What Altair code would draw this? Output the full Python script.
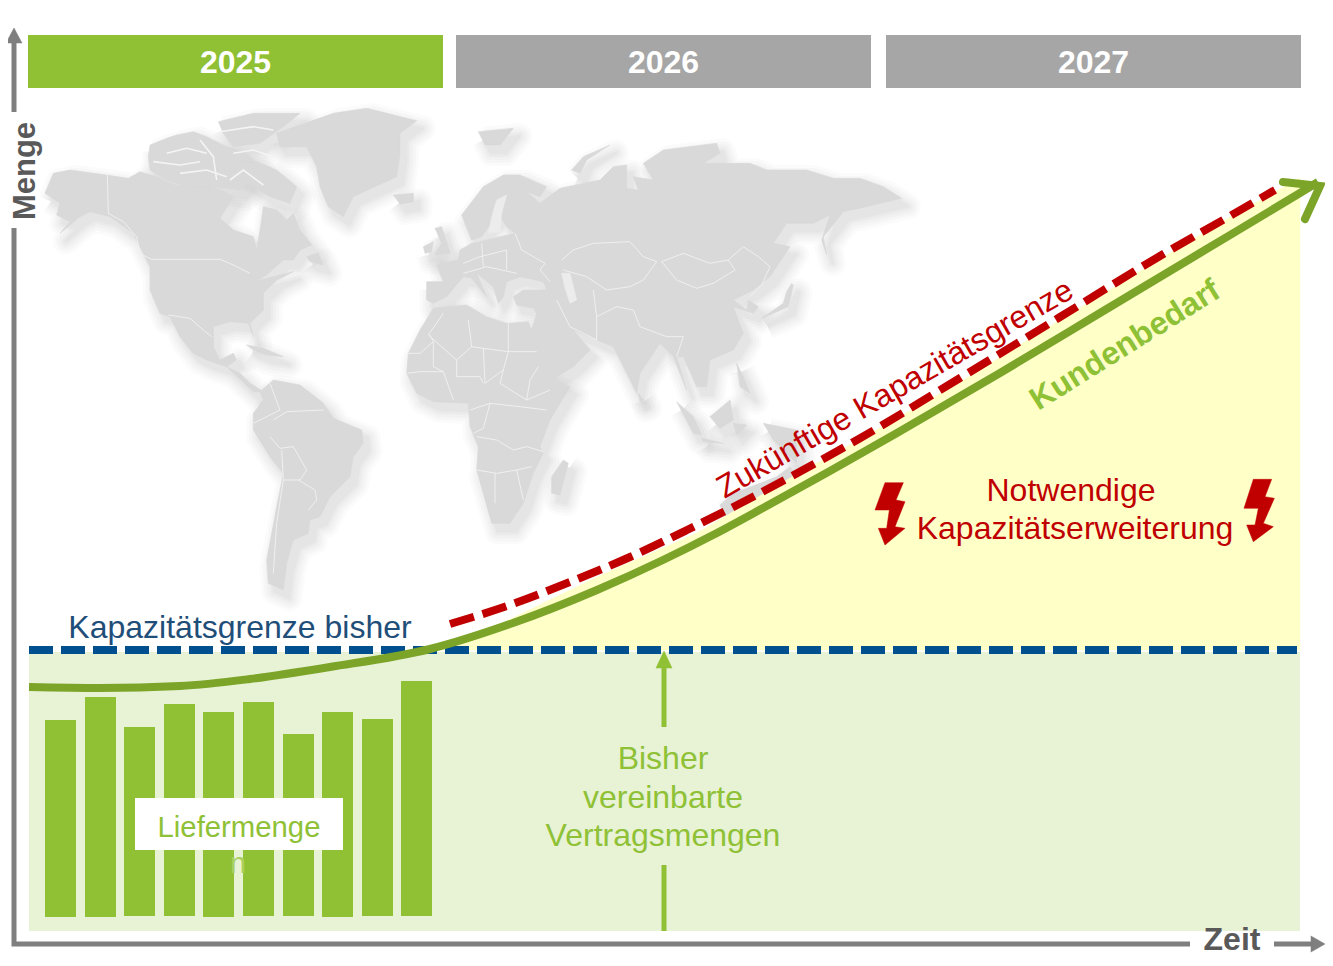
import altair as alt
import pandas as pd

FONT = "Liberation Sans"
GREEN = "#90c034"
TEXT_GREEN = "#8fc136"
DARK_GREEN = "#7ba428"
RED = "#c00000"
BLUE = "#00508f"
AXIS = "#7f7f7f"

ORIGIN_W = (0, 90)
ORIGIN_E = (400, 100)
LANDS_W = {
    "namerica": [(135,310),(160,250),(210,240),(320,255),(385,265),(420,245),(480,265),(520,285),(600,290),(640,290),(700,320),(660,385),(700,420),(760,440),(770,480),(780,420),(790,350),(830,360),(860,390),(880,370),(900,420),(935,465),(900,480),(880,510),(850,510),(800,555),(750,585),(715,580),(720,550),(760,560),(740,580),(880,545),(830,570),(790,610),(790,660),(750,700),(760,740),(745,700),(690,695),(640,710),(640,770),(660,810),(700,790),(710,810),(680,830),(720,850),(750,880),(790,905),(760,905),(680,830),(620,810),(580,790),(540,740),(510,680),(480,670),(450,600),(450,530),(420,470),(400,430),(330,380),(270,365),(240,380),(180,430),(210,395),(170,375),(180,340)],
    "arctic1": [(450,165),(500,145),(530,135),(580,125),(620,140),(680,170),(740,190),(770,220),(760,260),(720,300),(640,290),(560,290),(500,270),(450,240),(445,200)],
    "arctic2": [(655,95),(760,70),(900,70),(850,110),(780,160),(700,170),(670,130)],
    "baffin": [(700,215),(770,215),(830,240),(890,290),(870,340),(810,320),(760,290),(710,260)],
    "greenland": [(830,130),(1000,70),(1100,55),(1250,92),(1200,130),(1200,190),(1190,260),(1060,320),(1030,380),(985,350),(960,290),(950,230),(920,170),(840,170)],
    "iceland": [(1180,315),(1240,310),(1240,335),(1200,342)],
    "newfoundland": [(920,500),(955,490),(970,525),(930,515)],
    "cuba": [(740,765),(790,775),(850,800),(800,795),(760,780)],
    "samerica": [(780,905),(820,870),(900,885),(970,940),(1000,985),(1085,1020),(1090,1060),(1060,1100),(1050,1160),(990,1220),(960,1280),(930,1290),(925,1330),(880,1350),(860,1420),(850,1500),(805,1480),(800,1410),(830,1250),(850,1150),(810,1100),(760,1020),(760,970),(790,930)],
}
LANDS_E = {
    "eurasia": [(80,545),(130,545),(110,495),(175,480),(180,450),(215,430),(240,425),(300,410),(345,400),(320,380),(300,350),(270,375),(245,410),(215,420),(185,345),(250,260),(310,225),(360,225),(440,260),(420,290),(380,275),(420,310),(480,265),(600,240),(640,200),(680,195),(680,265),(715,270),(700,230),(760,240),(730,190),(790,150),(950,130),(960,160),(910,190),(1050,190),(1100,210),(1220,210),(1300,235),(1380,235),(1450,260),(1505,295),(1440,310),(1400,320),(1330,335),(1270,410),(1280,465),(1265,420),(1290,345),(1240,370),(1160,370),(1120,430),(1170,440),(1110,530),(1060,570),(1000,600),(1040,630),(1045,600),(1075,620),(1060,640),(1000,620),(1030,700),(1000,750),(930,780),(920,860),(890,860),(850,770),(830,770),(860,870),(820,770),(780,730),(720,820),(710,880),(680,820),(640,740),(590,720),(520,690),(570,750),(520,800),(455,840),(420,770),(395,690),(410,640),(400,625),(350,615),(340,590),(370,570),(440,570),(430,545),(360,530),(320,545),(310,590),(295,610),(280,560),(230,520),(260,590),(215,535),(190,530),(140,590),(100,610),(80,600)],
    "africa": [(100,625),(200,615),(260,650),(320,670),(385,665),(430,790),(450,830),(510,860),(450,960),(420,1040),(430,1060),(400,1120),(370,1210),(330,1270),(275,1270),(250,1180),(230,1110),(235,1040),(210,980),(205,910),(100,905),(50,880),(20,820),(25,760),(60,690)],
    "madagascar": [(490,1080),(505,1090),(480,1185),(455,1180),(455,1130)],
    "uk": [(105,385),(125,380),(150,460),(105,465),(125,430)],
    "ireland": [(70,440),(100,425),(95,455),(75,460)],
    "japan": [(1085,655),(1150,610),(1160,575),(1175,550),(1180,555),(1165,620),(1120,640)],
    "svalbard": [(235,95),(340,85),(300,135),(255,135)],
    "novaya": [(515,210),(550,170),(630,135),(560,180),(540,220)],
    "srilanka": [(715,880),(730,900),(720,905)],
    "sumatra": [(830,905),(880,950),(905,1005),(880,1000)],
    "borneo": [(930,950),(990,900),(1000,960),(960,985)],
    "java": [(905,1015),(970,1030),(910,1025)],
    "celebes": [(1000,970),(1040,975),(1010,1005)],
    "guinea": [(1090,970),(1190,990),(1190,1090),(1120,1020)],
    "philippines": [(1010,790),(1030,830),(1050,880),(1020,860)],
    "australia": [(960,1215),(1000,1180),(1080,1150),(1130,1130),(1170,1100),(1200,1140),(1300,1200),(1000,1300)],
}
CASPIAN_E = [(485,520),(510,520),(530,600),(510,610),(495,565)]
BALTIC_E = [(290,300),(320,285),(305,340),(300,395),(265,400),(275,350)]
CHANNELS_W = [
    [(500,190),(560,175),(620,190)],
    [(460,215),(540,225),(600,215)],
    [(540,250),(620,240),(680,260)],
    [(600,150),(640,200),(650,270)],
    [(700,190),(760,180),(820,200)],
    [(690,270),(730,240),(790,285)],
    [(660,125),(760,110),(820,120)],
]
BORDERS_W = [
    [(322,255),(325,370),(370,395),(410,440),(420,490),(455,508)],
    [(455,508),(660,508),(700,525),(750,550)],
    [(505,675),(570,685),(610,720),(635,740)],
    [(810,880),(840,960),(760,1000)],
    [(820,990),(860,965),(970,960)],
    [(810,1040),(840,1075),(880,1070),(920,1140),(900,1170),(850,1170),(845,1080)],
    [(895,1170),(945,1200),(950,1230),(925,1260)],
    [(850,1170),(830,1300),(820,1450)],
]
BORDERS_E = [
    [(485,480),(520,450),(580,430),(690,425),(730,470),(770,485),(730,540),(690,560),(620,570),(560,530),(490,510)],
    [(785,485),(850,460),(930,490),(985,480),(1005,510),(940,550),(890,565),(830,540),(785,485)],
    [(985,480),(1030,440),(1075,470),(1110,500),(1085,555),(1050,590)],
    [(345,400),(365,450),(435,490),(420,510),(450,545)],
    [(190,490),(240,470),(320,450),(320,510)],
    [(245,430),(250,500)],
    [(190,520),(260,500),(350,520)],
    [(470,600),(510,680),(590,720),(590,650),(650,620),(700,630),(720,680),(800,710),(850,710),(830,770)],
    [(580,570),(590,650)],
    [(130,640),(85,705),(170,780),(215,740),(205,660)],
    [(215,740),(250,745),(325,755),(325,670)],
    [(325,755),(410,755)],
    [(250,745),(255,850),(310,810),(325,755)],
    [(170,780),(170,830),(240,830),(250,850)],
    [(25,760),(60,760),(100,725),(90,705)],
    [(100,725),(100,800),(130,815)],
    [(20,820),(60,815),(130,815),(160,900)],
    [(310,810),(300,850),(380,900),(450,870)],
    [(380,900),(390,840),(415,800)],
    [(210,930),(270,910),(360,920),(440,930)],
    [(270,910),(250,985),(220,1000)],
    [(230,1010),(290,1020),(340,1050),(380,1040),(430,1055)],
    [(230,1110),(290,1120),(350,1110),(395,1100)],
    [(285,1120),(285,1210)],
    [(350,1110),(370,1200)],
]

# --- chart values
BAR_LEFT = [45, 85, 124, 164, 203, 243, 283, 322, 362, 401]
BAR_RIGHT = [76, 116, 155, 195, 234, 274, 314, 353, 393, 432]
BAR_TOP = [720, 697, 727, 704, 712, 702, 734, 712, 719, 681]
BAR_BOTTOM = [917, 917, 916, 916, 917, 916, 916, 917, 916, 916]
DEMAND_X = [29, 100, 180, 250, 330, 430, 513, 597, 663, 713, 763, 830, 897, 1000, 1100, 1200, 1300, 1318]
DEMAND_Y = [687, 688, 686, 679, 667, 649, 623, 590, 560, 535, 508, 471, 433, 373, 313, 253, 193, 182]
CAP_X = [450, 510, 570, 630, 687, 743, 803, 857, 960, 1060, 1160, 1230, 1275]
CAP_Y = [624, 605, 582, 557, 530, 502, 470, 440, 378, 317, 256, 216, 190]
YELLOW_X = [430, 480, 597, 697, 797, 887, 960, 1060, 1160, 1230, 1300]
YELLOW_Y = [650, 634, 577, 533, 474, 424, 382, 320, 259, 217, 178]
YEARS = ["2025", "2026", "2027"]
YEAR_LEFT = [28, 456, 886]
YEAR_RIGHT = [443, 871, 1301]
YEAR_COLOR = [GREEN, "#a6a6a6", "#a6a6a6"]
BOLT1 = [(75,968),(130,968),(108,1020),(135,1025),(105,1100),(135,1105),(75,1155),(55,1105),(80,1105),(88,1050),(45,1050)]
BOLT2 = [(1180,958),(1235,958),(1215,1010),(1243,1015),(1210,1090),(1240,1100),(1180,1145),(1160,1095),(1185,1095),(1195,1045),(1152,1045)]
ORIGIN_BOLT = (860, 160)

W, H = 1317, 950
X = alt.X("x:Q", scale=alt.Scale(domain=[8, 8 + W], nice=False, zero=False), axis=None)
Y = alt.Y("y:Q", scale=alt.Scale(domain=[8 + H, 8], nice=False, zero=False), axis=None)


def crop(points, origin):
    return [(origin[0] + a / 3, origin[1] + b / 3) for a, b in points]


def table(paths, dx=0, dy=0, close=True):
    rows = []
    for name, pts in paths.items():
        seq = list(pts) + ([pts[0]] if close else [])
        for i, (a, b) in enumerate(seq):
            rows.append({"x": a + dx, "y": b + dy, "i": i, "p": name})
    return pd.DataFrame(rows)


def path(paths, close=True, dx=0, dy=0, **mark):
    return alt.Chart(table(paths, dx, dy, close)).mark_line(clip=False, **mark).encode(
        x=X, y=Y, order="i:Q", detail="p:N")


def span(x1, x2, y1, y2, color, **mark):
    return alt.Chart(pd.DataFrame({"x": [x1], "x2": [x2], "y": [y1], "y2": [y2]})).mark_rect(
        color=color, **mark).encode(x=X, x2="x2:Q", y=Y, y2="y2:Q")


def label(txt, x, y, size, color, bold=False, angle=0, **mark):
    opts = dict(font=FONT, fontSize=size, color=color, align="center", baseline="middle",
                fontWeight="bold" if bold else "normal")
    if angle:
        opts["angle"] = angle
    opts.update(mark)
    return alt.Chart(pd.DataFrame({"x": [x], "y": [y], "t": [txt]})).mark_text(**opts).encode(
        x=X, y=Y, text="t:N")


lands = {k: crop(v, ORIGIN_W) for k, v in LANDS_W.items()}
lands.update({k: crop(v, ORIGIN_E) for k, v in LANDS_E.items()})
borders = {f"w{i}": crop(v, ORIGIN_W) for i, v in enumerate(BORDERS_W)}
borders.update({f"e{i}": crop(v, ORIGIN_E) for i, v in enumerate(BORDERS_E)})
channels = {f"c{i}": crop(v, ORIGIN_W) for i, v in enumerate(CHANNELS_W)}

layers = []
# soft shadow of the map
for sw, op in [(26, 0.05), (20, 0.07), (14, 0.09), (8, 0.11), (3, 0.13)]:
    layers.append(path(lands, dx=6, dy=8, fill="#c4c4c4", stroke="#c4c4c4", strokeWidth=sw,
                       opacity=op, strokeJoin="round"))
layers.append(path(lands, fill="#d9d9d9", stroke="#d9d9d9", strokeWidth=0.6))
layers.append(path({"caspian": crop(CASPIAN_E, ORIGIN_E), "baltic": crop(BALTIC_E, ORIGIN_E)},
                   fill="#ececec", stroke="#ececec", strokeWidth=0.5))
layers.append(path(channels, close=False, stroke="#f4f4f4", strokeWidth=1.6))
layers.append(path(borders, close=False, stroke="#f2f2f2", strokeWidth=0.9))

# regions
layers.append(span(29, 1300, 652, 931, "#e8f2d5"))
layers.append(path({"yellow": list(zip(YELLOW_X, YELLOW_Y)) + [(1300, 650), (430, 650)]},
                   fill="#ffffc8", stroke="#ffffc8", strokeWidth=0.5))

# year headers
for name, a, b, col in zip(YEARS, YEAR_LEFT, YEAR_RIGHT, YEAR_COLOR):
    layers.append(span(a, b, 35, 88, col))
    layers.append(label(name, (a + b) / 2, 63, 32, "white", bold=True))

# axes
for seg in [[(14, 112), (14, 40)], [(14, 228), (14, 944), (1190, 944)], [(1274, 944), (1315, 944)]]:
    layers.append(path({"a": seg}, close=False, stroke=AXIS, strokeWidth=5))
layers.append(path({"tip": [(14, 28), (22, 43), (6, 43)]}, fill=AXIS, stroke=AXIS, strokeWidth=0.5))
layers.append(path({"tip": [(1325, 944), (1311, 936), (1311, 952)]}, fill=AXIS, stroke=AXIS, strokeWidth=0.5))
layers.append(label("Menge", 26, 171, 31, "#595959", bold=True, angle=270))
layers.append(label("Zeit", 1232, 940, 32, "#595959", bold=True))

# bars
bars = pd.DataFrame({"x": BAR_LEFT, "x2": BAR_RIGHT, "y": BAR_TOP, "y2": BAR_BOTTOM})
layers.append(alt.Chart(bars).mark_rect(color=GREEN).encode(x=X, x2="x2:Q", y=Y, y2="y2:Q"))
layers.append(label("n", 238, 864, 29, "#a9d05f"))
layers.append(span(135, 343, 798, 850, "white"))
layers.append(label("Liefermenge", 239, 828, 29.3, TEXT_GREEN))

# contract arrow
layers.append(path({"up": [(664, 727), (664, 664)]}, close=False, stroke=GREEN, strokeWidth=5))
layers.append(path({"dn": [(664, 865), (664, 931)]}, close=False, stroke=GREEN, strokeWidth=5))
layers.append(path({"tip": [(664, 651), (672, 668), (656, 668)]}, fill=GREEN, stroke=GREEN, strokeWidth=0.5))
layers.append(label("Bisher", 663, 759, 32, TEXT_GREEN))
layers.append(label("vereinbarte", 663, 798, 32, TEXT_GREEN))
layers.append(label("Vertragsmengen", 663, 836, 32, TEXT_GREEN))

# lines
layers.append(path({"blue": [(29, 650), (1297, 650)]}, close=False, stroke=BLUE, strokeWidth=8, strokeDash=[24, 8]))
layers.append(path({"cap": list(zip(CAP_X, CAP_Y))}, close=False, stroke=RED, strokeWidth=8,
                   strokeDash=[25, 9], interpolate="monotone"))
layers.append(path({"demand": list(zip(DEMAND_X, DEMAND_Y))}, close=False, stroke=DARK_GREEN, strokeWidth=8,
                   interpolate="monotone"))
layers.append(path({"head": [(1283, 182), (1320, 186), (1305, 219)]}, close=False, stroke=DARK_GREEN,
                   strokeWidth=8, strokeCap="round", strokeJoin="miter"))

# labels
layers.append(label("Kapazitätsgrenze bisher", 240, 628, 32, "#1f4e79"))
layers.append(label("Zukünftige Kapazitätsgrenze", 895, 389, 32, RED, angle=330))
layers.append(label("Kundenbedarf", 1125, 345, 32, TEXT_GREEN, bold=True, angle=328))
layers.append(label("Notwendige", 1071, 491, 32, RED))
layers.append(label("Kapazitätserweiterung", 1075, 529, 32, RED))
layers.append(path({"b1": crop(BOLT1, ORIGIN_BOLT)}, fill=RED, stroke=RED, strokeWidth=0.5))
layers.append(path({"b2": crop(BOLT2, ORIGIN_BOLT)}, fill=RED, stroke=RED, strokeWidth=0.5))

chart = alt.layer(*layers).properties(
    width=W, height=H, padding=0, autosize=alt.AutoSizeParams(type="none"),
    background="white",
).configure_view(stroke=None)

chart.save("out.html", embed_options={"renderer": "svg", "actions": False})
